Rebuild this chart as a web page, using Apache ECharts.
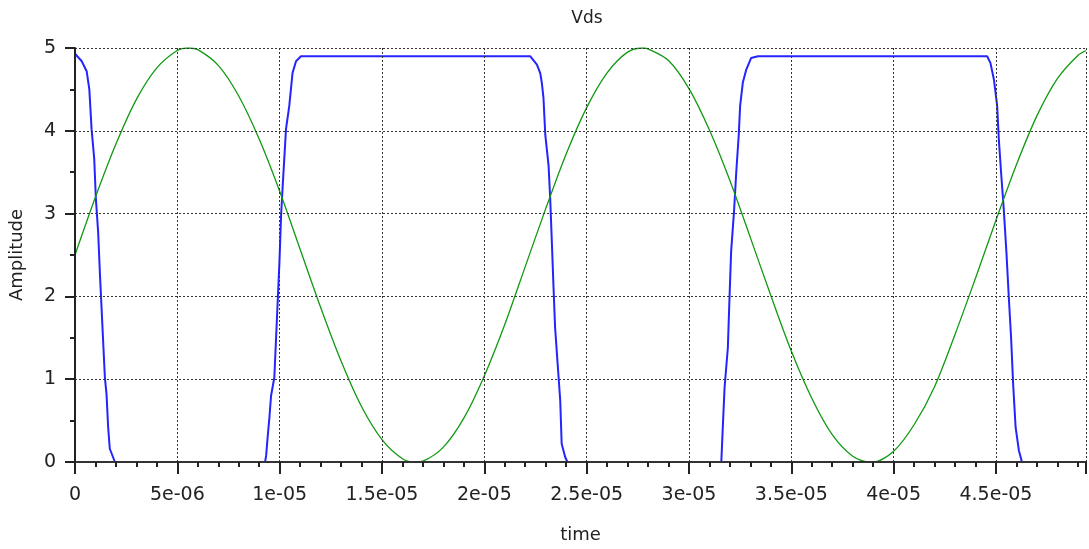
<!DOCTYPE html>
<html>
<head>
<meta charset="utf-8">
<script src="https://cdn.jsdelivr.net/npm/echarts@6/dist/echarts.min.js"></script>
<style>
html,body{margin:0;padding:0;background:#fff;}
#c{width:1089px;height:549px;}
</style>
</head>
<body>
<div id="c"></div>
<script>
// time in microseconds
const xTickLabels = ['0','5e-06','1e-05','1.5e-05','2e-05','2.5e-05','3e-05','3.5e-05','4e-05','4.5e-05'];
const yTickLabels = ['0','1','2','3','4','5'];

const blueT = [0,0.33,0.57,0.70,0.81,0.94,1.02,1.13,1.22,1.46,1.54,1.62,1.70,1.95,
  9.29,9.34,9.42,9.50,9.58,9.74,9.99,10.07,10.15,10.31,10.47,10.63,10.80,11.04,
  22.25,22.57,22.73,22.81,22.89,22.98,23.14,23.22,23.30,23.38,23.46,23.59,23.71,23.78,23.95,24.06,
  31.58,31.66,31.74,31.90,31.98,32.06,32.20,32.31,32.43,32.50,32.63,32.80,33.04,33.37,
  44.57,44.73,44.90,45.06,45.14,45.25,45.38,45.51,45.63,45.74,45.84,45.96,46.12,46.27,
  49.4];
const blueV = [4.93,4.84,4.72,4.50,4.02,3.66,3.18,2.78,2.26,1.02,0.82,0.42,0.16,0,
  0,0.08,0.32,0.54,0.80,1.02,2.42,2.98,3.34,4.02,4.30,4.70,4.84,4.90,
  4.90,4.80,4.70,4.58,4.40,3.95,3.58,3.18,2.66,2.12,1.62,1.16,0.74,0.22,0.06,0,
  0,0.46,0.90,1.38,1.98,2.54,3.02,3.50,3.94,4.30,4.58,4.74,4.88,4.90,
  4.90,4.82,4.62,4.30,3.90,3.50,3.06,2.54,1.98,1.50,0.94,0.42,0.14,0,
  0];

const greenT = [0,1,2,3,4,5,5.55,6,7,8,9,10,11,12,13,14,15,16,16.65,17,18,19,20,21,22,23,24,25,26,27,27.75,28,29,
  30,31,32,33,34,35,36,37,38,38.85,39,40,41,42,43,44,45,46,47,48,49,49.4];
const greenV = [2.50,3.20,3.84,4.38,4.76,4.97,5.00,4.98,4.79,4.42,3.90,
  3.27,2.57,1.87,1.22,0.67,0.27,0.04,0.00,0.01,0.18,0.53,
  1.04,1.66,2.36,3.06,3.72,4.28,4.70,4.95,5.00,4.99,4.85,
  4.51,4.01,3.40,2.71,2.01,1.34,0.77,0.33,0.07,0.00,0.00,
  0.13,0.45,0.91,1.54,2.22,2.92,3.59,4.18,4.63,4.91,4.97];

const FONT = 'DejaVu Sans';
const chart = echarts.init(document.getElementById('c'), null, {renderer:'canvas'});
const gridLine = {show:true, lineStyle:{color:'#333', width:1, type:[2,2]}};

chart.setOption({
  animation:false,
  backgroundColor:'#fff',
  title:{text:'Vds', left:582, top:5, textAlign:'center',
    textStyle:{fontFamily:FONT, fontSize:17, fontWeight:'normal', color:'#222'}},
  grid:{left:75, right:0, top:48, bottom:83, containLabel:false},
  xAxis:[{
    type:'value', min:0, max:49.4, interval:5, z:3,
    name:'time', nameLocation:'middle', nameGap:64,
    nameTextStyle:{fontFamily:FONT, fontSize:18, color:'#222'},
    axisLine:{show:true, onZero:false, lineStyle:{color:'#222', width:2}},
    axisTick:{show:true, length:12, lineStyle:{color:'#222', width:2}},
    minorTick:{show:true, splitNumber:5, length:5, lineStyle:{color:'#222', width:2}},
    splitLine:gridLine,
    axisLabel:{fontFamily:FONT, fontSize:19, color:'#222', margin:24,
      formatter:function(v){const i=Math.round(v/5); return Math.abs(v-i*5)<1e-6 && xTickLabels[i]!==undefined ? xTickLabels[i] : '';}}
  },{
    type:'value', position:'top', min:0, max:49.4, z:3,
    axisLine:{show:true, lineStyle:{color:'#333', width:2}},
    axisTick:{show:false}, axisLabel:{show:false}, splitLine:{show:false}
  }],
  yAxis:{
    type:'value', min:0, max:5, interval:1, z:3,
    name:'Amplitude', nameLocation:'middle', nameGap:49,
    nameTextStyle:{fontFamily:FONT, fontSize:18, color:'#222'},
    axisLine:{show:true, onZero:false, lineStyle:{color:'#222', width:2}},
    axisTick:{show:true, length:10, lineStyle:{color:'#222', width:2}},
    minorTick:{show:true, splitNumber:2, length:5, lineStyle:{color:'#222', width:2}},
    splitLine:gridLine,
    axisLabel:{fontFamily:FONT, fontSize:19, color:'#222', margin:19,
      formatter:function(v){const i=Math.round(v); return yTickLabels[i]!==undefined ? yTickLabels[i] : '';}}
  },
  series:[{
    type:'line', name:'Vds', showSymbol:false, symbol:'none',
    data: blueT.map((t,i)=>[t, blueV[i]]),
    lineStyle:{color:'#2424ff', width:2}, z:2
  },{
    type:'line', name:'Vin', showSymbol:false, symbol:'none', smooth:0.3,
    data: greenT.map((t,i)=>[t, greenV[i]]),
    lineStyle:{color:'#119911', width:1.3}, z:2
  }]
});
</script>
</body>
</html>
